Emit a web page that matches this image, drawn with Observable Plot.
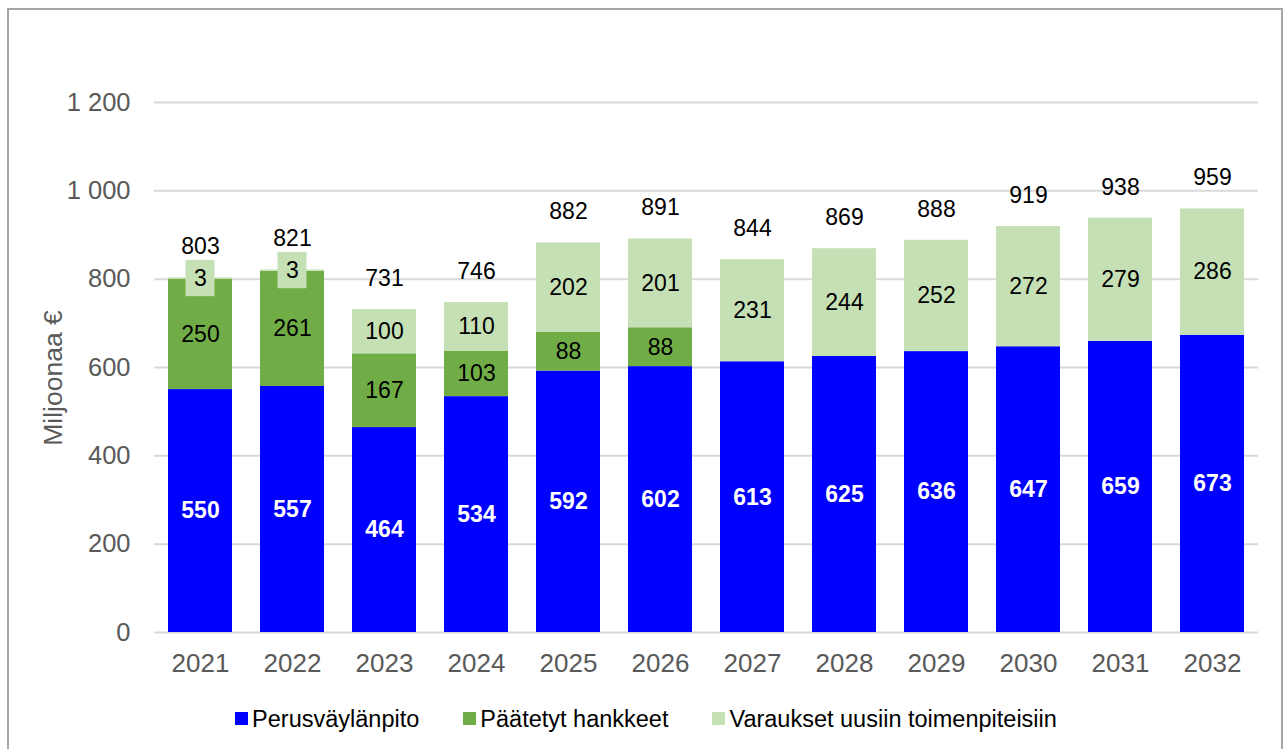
<!DOCTYPE html>
<html>
<head>
<meta charset="utf-8">
<script src="https://cdn.jsdelivr.net/npm/d3@7"></script>
<script src="https://cdn.jsdelivr.net/npm/@observablehq/plot@0.6"></script>
<style>
  html, body { margin: 0; padding: 0; background: #fff; }
  body { font-family: "Liberation Sans", Arial, sans-serif; }
  #wrap { position: relative; width: 1287px; height: 749px; overflow: hidden; background: #fff; }
  #frame { position: absolute; left: 7px; top: 8px; width: 1276px; height: 760px; border: 2px solid #a6a6a6; box-sizing: border-box; pointer-events: none; }
  #chart { position: absolute; left: 0; top: 0; }
  #ylabel { position: absolute; left: 53px; top: 378px; transform: translate(-50%, -50%) rotate(-90deg); font-size: 26.5px; color: #595959; white-space: nowrap; }
  #legend { position: absolute; left: 0; top: 703px; width: 1292px; text-align: center; font-size: 23.5px; line-height: 28px; color: #000; white-space: nowrap; }
  .item { display: inline-flex; align-items: center; margin: 0 22px; }
  .sw { display: inline-block; width: 13px; height: 13px; margin-right: 4px; }
</style>
</head>
<body>
<div id="wrap">
  <div id="chart"></div>
  <div id="ylabel"></div>
  <div id="legend"></div>
  <div id="frame"></div>
</div>
<script>
const years = ["2021","2022","2023","2024","2025","2026","2027","2028","2029","2030","2031","2032"];
const perusvaylanpito = [550, 557, 464, 534, 592, 602, 613, 625, 636, 647, 659, 673];
const paatetytHankkeet = [250, 261, 167, 103, 88, 88, 0, 0, 0, 0, 0, 0];
const varaukset = [3, 3, 100, 110, 202, 201, 231, 244, 252, 272, 279, 286];
const totals = [803, 821, 731, 746, 882, 891, 844, 869, 888, 919, 938, 959];
const seriesNames = ["Perusväylänpito", "Päätetyt hankkeet", "Varaukset uusiin toimenpiteisiin"];
const seriesColors = ["#0000ff", "#70ad47", "#c5e0b4"];
const yTicks = [0, 200, 400, 600, 800, 1000, 1200];
const yTitle = "Miljoonaa €";

const seriesValues = [perusvaylanpito, paatetytHankkeet, varaukset];
const rows = [];
years.forEach((yr, i) => {
  let base = 0;
  seriesValues.forEach((vals, s) => {
    const v = vals[i];
    rows.push({year: yr, series: seriesNames[s], value: v, y1: base, y2: base + v});
    base += v;
  });
});
const totalRows = years.map((yr, i) => ({year: yr, total: totals[i]}));

const fmt = d3.formatLocale({decimal: ",", thousands: "\u00a0", grouping: [3], currency: ["", " €"]}).format(",");
const font = "'Liberation Sans', Arial, sans-serif";

const chart = Plot.plot({
  width: 1287,
  height: 690,
  marginLeft: 154,
  marginRight: 29,
  marginTop: 102,
  marginBottom: 58,
  style: {fontFamily: font, background: "transparent", overflow: "visible"},
  x: {domain: years, paddingInner: 0.304, paddingOuter: 0.152},
  y: {domain: [0, 1200]},
  color: {domain: seriesNames, range: seriesColors},
  marks: [
    Plot.gridY(yTicks, {stroke: "#d9d9d9", strokeOpacity: 1, strokeWidth: 2}),
    Plot.barY(rows, {filter: d => d.value > 0, x: "year", y1: "y1", y2: "y2", fill: "series"}),
    Plot.barY(rows, {filter: d => d.value > 0 && d.value < 10, x: "year", y1: "y1", y2: "y2", fill: "series",
      insetLeft: 17.5, insetRight: 17.5, insetTop: -17.5, insetBottom: -17.5}),
    Plot.text(rows, {filter: d => d.value > 0 && d.series === seriesNames[0], x: "year", y: d => (d.y1 + d.y2) / 2,
      text: d => String(d.value), fill: "#ffffff", fontWeight: "bold", fontSize: 23}),
    Plot.text(rows, {filter: d => d.value > 0 && d.series !== seriesNames[0], x: "year", y: d => (d.y1 + d.y2) / 2,
      text: d => String(d.value), fill: "#000000", fontSize: 23}),
    Plot.text(totalRows, {x: "year", y: "total", text: d => String(d.total), dy: -31, fill: "#000000", fontSize: 23}),
    Plot.axisX({tickSize: 0, tickPadding: 21, fontSize: 26, color: "#595959", label: null}),
    Plot.axisY({ticks: yTicks, tickSize: 0, tickPadding: 24, tickFormat: fmt, fontSize: 25.5, color: "#595959", label: null})
  ]
});
document.getElementById("chart").appendChild(chart);
document.getElementById("ylabel").textContent = yTitle;

const legend = document.getElementById("legend");
seriesNames.forEach((name, i) => {
  const item = document.createElement("span");
  item.className = "item";
  const sw = document.createElement("span");
  sw.className = "sw";
  sw.style.background = seriesColors[i];
  item.appendChild(sw);
  item.appendChild(document.createTextNode(name));
  legend.appendChild(item);
});
</script>
</body>
</html>
